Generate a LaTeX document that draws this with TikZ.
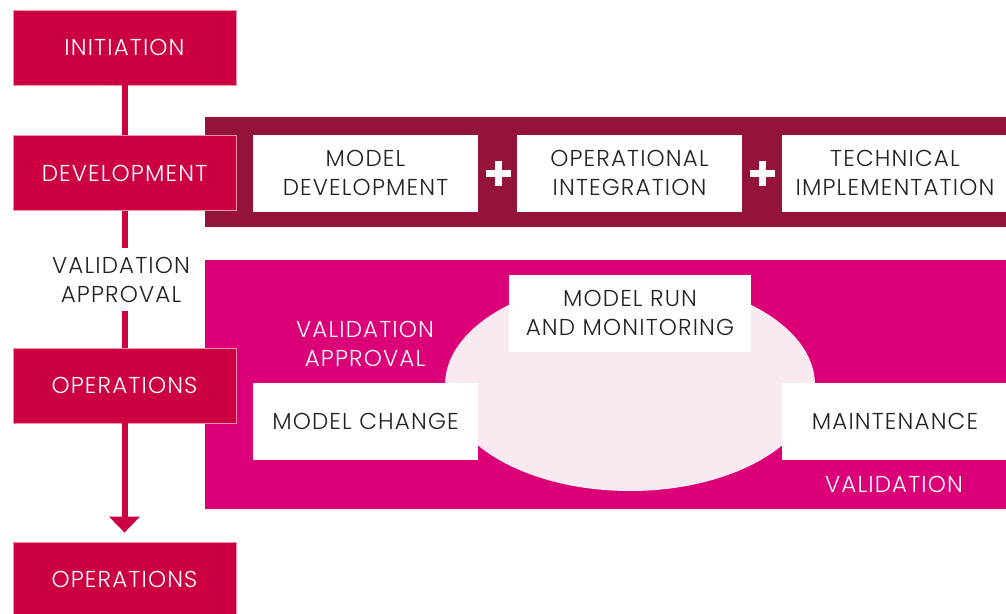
\documentclass[tikz,border=0pt]{standalone}
\usepackage{fontspec}
\setmainfont{Poppins}[UprightFont={* Light}, LetterSpace=5]
\usetikzlibrary{arrows.meta}
\definecolor{crim}{HTML}{CC0040}
\definecolor{wine}{HTML}{931438}
\definecolor{mag}{HTML}{DC0078}
\definecolor{blush}{HTML}{F9E9F1}
\definecolor{ink}{HTML}{222222}
\definecolor{rim}{HTML}{EE90AA}
\begin{document}
\begin{tikzpicture}[x=1pt,y=-1pt,
 every node/.style={font=\fontsize{23}{29}\selectfont, align=center, inner sep=0pt},
 stage/.style={fill=crim, draw=rim, line width=0.8pt, minimum width=223pt, minimum height=75pt, text=white},
 card/.style={fill=white, text=ink, minimum height=77pt},
 flow/.style={draw=crim, line width=6pt},
 label/.style={text=white}
]
\useasboundingbox (0,0) rectangle (1006,613);
% bands
\fill[wine] (205,117) rectangle (1006,227);
\fill[mag] (205,260) rectangle (1006,509);
\fill[blush] (630,385) ellipse [x radius=185, y radius=106];
% left column
\node[stage] (init) at (124.5,47.5) {INITIATION};
\node[stage] (dev) at (124.5,173) {DEVELOPMENT};
\node[text=ink, minimum height=62pt] (va) at (121,279.5) {VALIDATION\\APPROVAL};
\node[stage] (ops) at (124.5,385.5) {OPERATIONS};
\node[stage] (ops2) at (124.5,579.5) {OPERATIONS};
\draw[flow] (init) -- (dev);
\draw[flow] (dev) -- (dev |- va.north);
\draw[flow] (dev |- va.south) -- (ops);
\draw[flow, -{Triangle[width=30pt,length=16pt]}, shorten >=9pt] (ops) -- (ops2);
% development band
\node[card, minimum width=225pt] (md) at (365.5,173) {MODEL\\DEVELOPMENT};
\node[card, minimum width=225pt] (oi) at (629.5,173) {OPERATIONAL\\INTEGRATION};
\node[card, minimum width=226pt] (ti) at (895,173) {TECHNICAL\\IMPLEMENTATION};
\fill[white] (485.5,169.5) rectangle (510.5,176.5);
\fill[white] (494.5,160.5) rectangle (501.5,185.5);
\fill[white] (749.5,169.5) rectangle (774.5,176.5);
\fill[white] (758.5,160.5) rectangle (765.5,185.5);
% operations band
\node[card, minimum width=242pt] (run) at (630,313) {MODEL RUN\\AND MONITORING};
\node[card, minimum width=225pt] (chg) at (365.5,421) {MODEL CHANGE};
\node[card, minimum width=226pt] (mnt) at (895,421) {MAINTENANCE};
\node[label] (vap) at (365,343.5) {VALIDATION\\APPROVAL};
\node[label] (val) at (894,484.5) {VALIDATION};
\end{tikzpicture}
\end{document}
